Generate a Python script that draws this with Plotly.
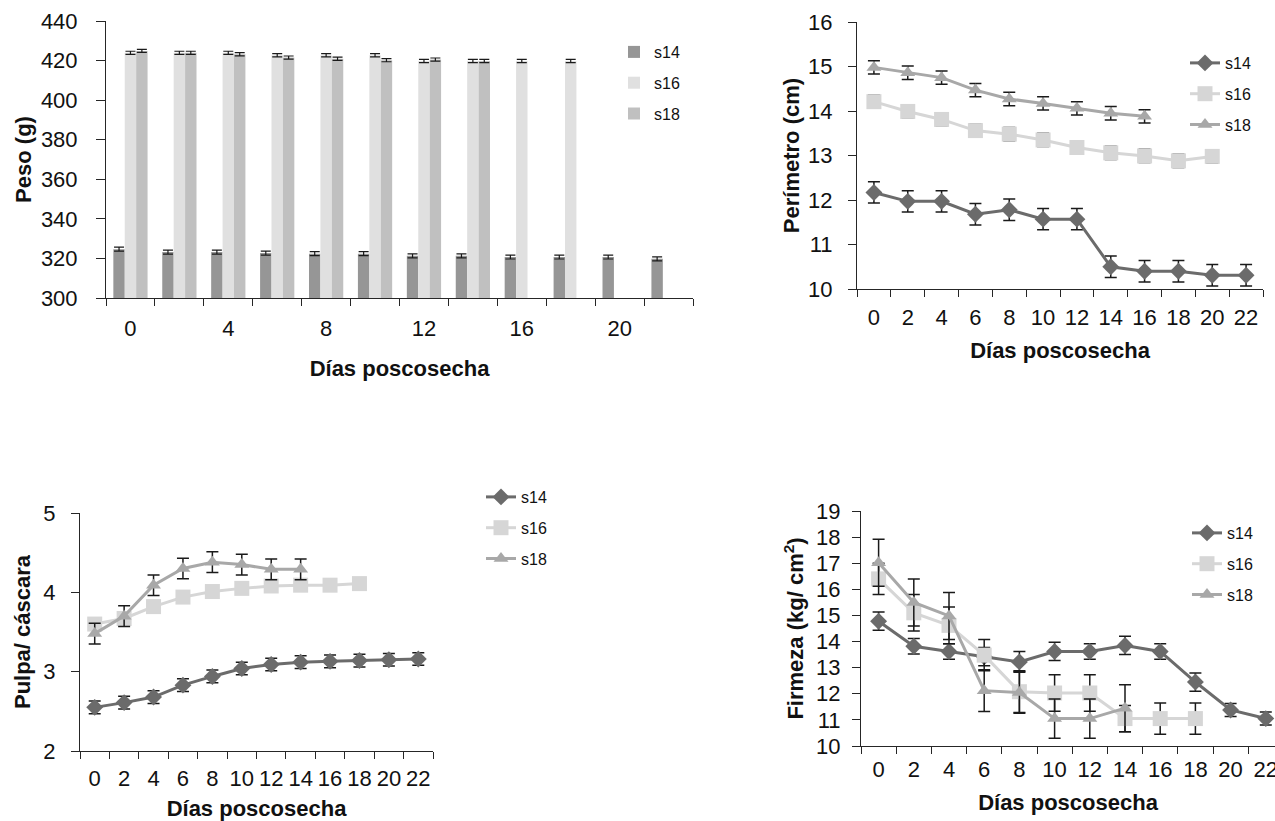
import plotly.graph_objects as go

# ---------------- data ----------------
dias = [0, 2, 4, 6, 8, 10, 12, 14, 16, 18, 20, 22]
series = ["s14", "s16", "s18"]

# Peso (g) - bar chart
peso_s14 = [324.7, 323.2, 323.2, 322.7, 322.4, 322.4, 321.3, 321.3, 320.7, 320.7, 320.7, 319.8]
peso_s16 = [423.9, 423.9, 423.9, 422.7, 422.7, 422.7, 419.8, 419.8, 419.8, 419.8, None, None]
peso_s18 = [424.9, 423.9, 423.2, 421.5, 420.9, 420.2, 420.5, 419.8, None, None, None, None]
peso_err_s14 = [1.0] * 12
peso_err_s16 = [0.8] * 12
peso_err_s18 = [0.8] * 12

# Perimetro (cm)
per_s14 = [12.17, 11.97, 11.97, 11.68, 11.78, 11.57, 11.57, 10.5, 10.4, 10.4, 10.31, 10.31]
per_s16 = [14.21, 13.99, 13.81, 13.56, 13.48, 13.35, 13.18, 13.06, 12.99, 12.88, 12.98, None]
per_s18 = [14.98, 14.86, 14.75, 14.47, 14.27, 14.17, 14.06, 13.95, 13.88, None, None, None]
per_err_s14 = [0.24] * 12
per_err_s16 = [0.15] * 12
per_err_s18 = [0.15] * 12

# Pulpa / cascara
pul_s14 = [2.55, 2.61, 2.68, 2.83, 2.94, 3.04, 3.09, 3.12, 3.13, 3.14, 3.15, 3.16]
pul_s16 = [3.60, 3.67, 3.82, 3.94, 4.01, 4.05, 4.08, 4.09, 4.09, 4.11, None, None]
pul_s18 = [3.48, 3.70, 4.09, 4.30, 4.38, 4.35, 4.29, 4.29, None, None, None, None]
pul_err_s14 = [0.08] * 12
pul_err_s16 = [0.06] * 12
pul_err_s18 = [0.13] * 12

# Firmeza (kg/cm2)
fir_s14 = [14.78, 13.82, 13.62, 13.42, 13.22, 13.62, 13.62, 13.85, 13.62, 12.45, 11.38, 11.05]
fir_s16 = [16.40, 15.10, 14.62, 13.48, 12.08, 12.03, 12.03, 11.05, 11.05, 11.05, None, None]
fir_s18 = [17.02, 15.50, 14.98, 12.12, 12.05, 11.05, 11.05, 11.45, None, None, None, None]
fir_err_s14 = [0.35, 0.3, 0.3, 0.35, 0.4, 0.35, 0.3, 0.35, 0.3, 0.35, 0.25, 0.25]
fir_err_s16 = [0.6, 0.7, 0.7, 0.6, 0.8, 0.7, 0.7, 0.5, 0.6, 0.6, None, None]
fir_err_s18 = [0.9, 0.9, 0.9, 0.8, 0.8, 0.75, 0.75, 0.9, None, None, None, None]

bar_tick_days = [0, 4, 8, 12, 16, 20]

# ---------------- style ----------------
FONT = "Arial, 'Liberation Sans', Helvetica, sans-serif"
BAR_COLORS = {"s14": "#969696", "s16": "#e0e0e0", "s18": "#c0c0c0"}
LINE_COLORS = {"s14": "#6b6b6b", "s16": "#d6d6d6", "s18": "#a8a8a8"}
SYMBOLS = {"s14": "diamond", "s16": "square", "s18": "triangle-up"}
MSIZE = {"s14": 13, "s16": 15, "s18": 13}
AXC = "#262626"
ERRC = "#1a1a1a"

W, H = 1275, 821

def px_dom_x(a, b):
    return [a / W, min(b / W, 1.0)]

def px_dom_y(top, bottom):
    return [1 - bottom / H, 1 - top / H]

boundaries = [d - 1 for d in dias] + [dias[-1] + 1]

fig = go.Figure()

# ---- bar chart (top-left)
for name, vals, err in zip(series, [peso_s14, peso_s16, peso_s18],
                           [peso_err_s14, peso_err_s16, peso_err_s18]):
    fig.add_trace(go.Bar(
        x=dias, y=vals, name=name, marker=dict(color=BAR_COLORS[name], line=dict(width=0)),
        error_y=dict(type="data", array=err, color=ERRC, thickness=1.2, width=5),
        xaxis="x", yaxis="y", legend="legend", legendgroup="a" + name,
    ))

# ---- line charts
def add_lines(datas, errs, xa, ya, leg, grp):
    for name, vals, err in zip(series, datas, errs):
        fig.add_trace(go.Scatter(
            x=dias, y=vals, name=name, mode="lines+markers",
            line=dict(color=LINE_COLORS[name], width=3),
            marker=dict(symbol=SYMBOLS[name], size=MSIZE[name], color=LINE_COLORS[name],
                        line=dict(width=0)),
            error_y=dict(type="data", array=err, color=ERRC, thickness=1.5, width=6),
            xaxis=xa, yaxis=ya, legend=leg, legendgroup=grp + name,
        ))

add_lines([per_s14, per_s16, per_s18], [per_err_s14, per_err_s16, per_err_s18], "x2", "y2", "legend2", "b")
add_lines([pul_s14, pul_s16, pul_s18], [pul_err_s14, pul_err_s16, pul_err_s18], "x3", "y3", "legend3", "c")
add_lines([fir_s14, fir_s16, fir_s18], [fir_err_s14, fir_err_s16, fir_err_s18], "x4", "y4", "legend4", "d")

tickfont = dict(family=FONT, size=22, color="#111")
titlefont = dict(family=FONT, size=22, color="#111", weight="bold")

def xaxis(domain, anchor, tickvals, rng, standoff, title_standoff):
    return dict(
        domain=domain, anchor=anchor, range=rng, showgrid=False, zeroline=False,
        showline=True, linecolor=AXC, linewidth=1, automargin=False,
        tickmode="array", tickvals=tickvals, ticktext=[str(v) for v in tickvals],
        ticks="", tickfont=tickfont, ticklabelstandoff=standoff,
        ticklabeloverflow="allow",
        minor=dict(tickmode="array", tickvals=boundaries, ticks="outside",
                   ticklen=7, tickcolor=AXC, tickwidth=1, showgrid=False),
        title=dict(text="Días poscosecha", font=titlefont, standoff=title_standoff),
        fixedrange=True,
    )

def yaxis(domain, anchor, rng, dtick, title, standoff, title_standoff, ticklen=8):
    return dict(
        domain=domain, anchor=anchor, range=rng, showgrid=False, zeroline=False,
        showline=True, linecolor=AXC, linewidth=1, automargin=False,
        tickmode="linear", tick0=rng[0], dtick=dtick,
        ticks="outside", ticklen=ticklen, tickcolor=AXC, tickwidth=1,
        tickfont=tickfont, ticklabelstandoff=standoff,
        title=dict(text=title, font=titlefont, standoff=title_standoff),
        fixedrange=True,
    )

def legend(xpx, ypx, gap):
    return dict(x=xpx / W, y=1 - ypx / H, xanchor="left", yanchor="top",
                bgcolor="rgba(0,0,0,0)", borderwidth=0,
                font=dict(family=FONT, size=16, color="#111"),
                tracegroupgap=gap, itemclick=False, itemdoubleclick=False)

fig.update_layout(
    width=W, height=H, autosize=False,
    margin=dict(l=0, r=0, t=0, b=0, pad=0),
    paper_bgcolor="white", plot_bgcolor="white",
    font=dict(family=FONT, color="#111"),
    barmode="group", bargap=0.3, bargroupgap=0,
    showlegend=True,
    xaxis=xaxis(px_dom_x(106, 693), "y", bar_tick_days, [-1, 23], 11, 20),
    yaxis=yaxis(px_dom_y(21, 298), "x", [300, 440], 20, "Peso (g)", 14, 3, ticklen=9),
    xaxis2=xaxis(px_dom_x(857, 1263), "y2", dias, [-1, 23], 9, 13),
    yaxis2=yaxis(px_dom_y(22, 289), "x2", [10, 16], 1, "Perímetro (cm)", 11, 2),
    xaxis3=xaxis(px_dom_x(80, 433), "y3", dias, [-1, 23], 8, 22),
    yaxis3=yaxis(px_dom_y(513, 751), "x3", [2, 5], 1, "Pulpa/ cáscara", 11, 6),
    xaxis4=xaxis(px_dom_x(861, 1275), "y4", dias, [-1, -1 + 2 * (1275 - 861) / 35.2], 4, 13),
    yaxis4=yaxis(px_dom_y(511, 746), "x4", [10, 19], 1, "Firmeza (kg/ cm<sup>2</sup>)", 7, 6),
    legend=legend(614, 35, 7),
    legend2=legend(1185, 46, 7),
    legend3=legend(481, 480, 7),
    legend4=legend(1187, 516, 7),
)

fig.write_html(
    "out.html",
    config={"displayModeBar": False, "staticPlot": False},
    post_script="document.body.style.margin='0';document.body.style.overflow='hidden';",
)
